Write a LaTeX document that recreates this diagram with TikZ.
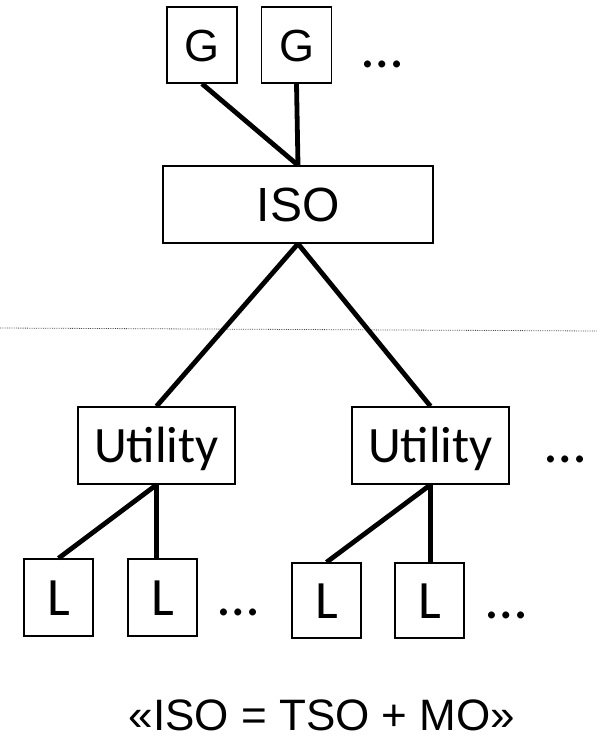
\documentclass[tikz,border=0pt]{standalone}
\usepackage{fontspec}
\setmainfont{Liberation Sans}
\newfontfamily\calfont{Carlito}
\begin{document}
\begin{tikzpicture}[x=1pt,y=-1pt,
  box/.style={shape=rectangle,draw=black,line width=1.5pt,fill=white,inner sep=0pt,text depth=0pt},
  gbox/.style={box,minimum width=70pt,minimum height=76pt,font=\fontsize{45}{54}\selectfont,text height=32pt},
  isobox/.style={box,minimum width=270pt,minimum height=77pt,font=\fontsize{48}{58}\selectfont,text height=34pt},
  ubox/.style={box,minimum width=157pt,minimum height=77pt,font=\calfont\fontsize{51}{60}\selectfont,text height=33pt},
  lbox/.style={box,minimum width=69pt,minimum height=77pt,font=\calfont\fontsize{54}{64}\selectfont,text height=35pt},
  more/.style={anchor=base,font=\calfont\fontsize{58}{66}\selectfont},
  link/.style={-,line width=4.8pt}]
\useasboundingbox (0,0) rectangle (597,740);

% level boundary
\draw[densely dotted,black!70,line width=0.8pt] (0,328) -- (597,331);

\node[gbox] (g1) at (202,45) {G};
\node[gbox] (g2) at (296.5,45) {G};
\node[more] (gdots) at (383,67) {…};

\node[isobox] (iso) at (298,204.5) {ISO};

\node[ubox] (u1) at (156.5,445.5) {Utility};
\node[ubox] (u2) at (430.5,445.5) {Utility};
\node[more] (udots) at (566,462) {…};

\node[lbox] (l1) at (58.5,597.5) {L};
\node[lbox] (l2) at (162.5,597.5) {L};
\node[more] (ldots1) at (239,615) {…};
\node[lbox,minimum height=75pt] (l3) at (326.5,600.5) {L};
\node[lbox,minimum height=75pt] (l4) at (429.5,600.5) {L};
\node[more] (ldots2) at (507,618) {…};

\node[anchor=base,text depth=0pt,font=\fontsize{44}{53}\selectfont] (formula) at (322,730) {«ISO = TSO + MO»};

\path [link] (g1.south) edge (iso.north);
\path [link] (g2.south) edge (iso.north);
\path [link] (iso.south) edge (u1.north);
\path [link] (iso.south) edge (u2.north);
\path [link] (u1.south) edge (l1.north);
\path [link] (u1.south) edge (u1.south |- l2.north);
\path [link] (u2.south) edge (l3.north);
\path [link] (u2.south) edge (u2.south |- l4.north);
\end{tikzpicture}
\end{document}
